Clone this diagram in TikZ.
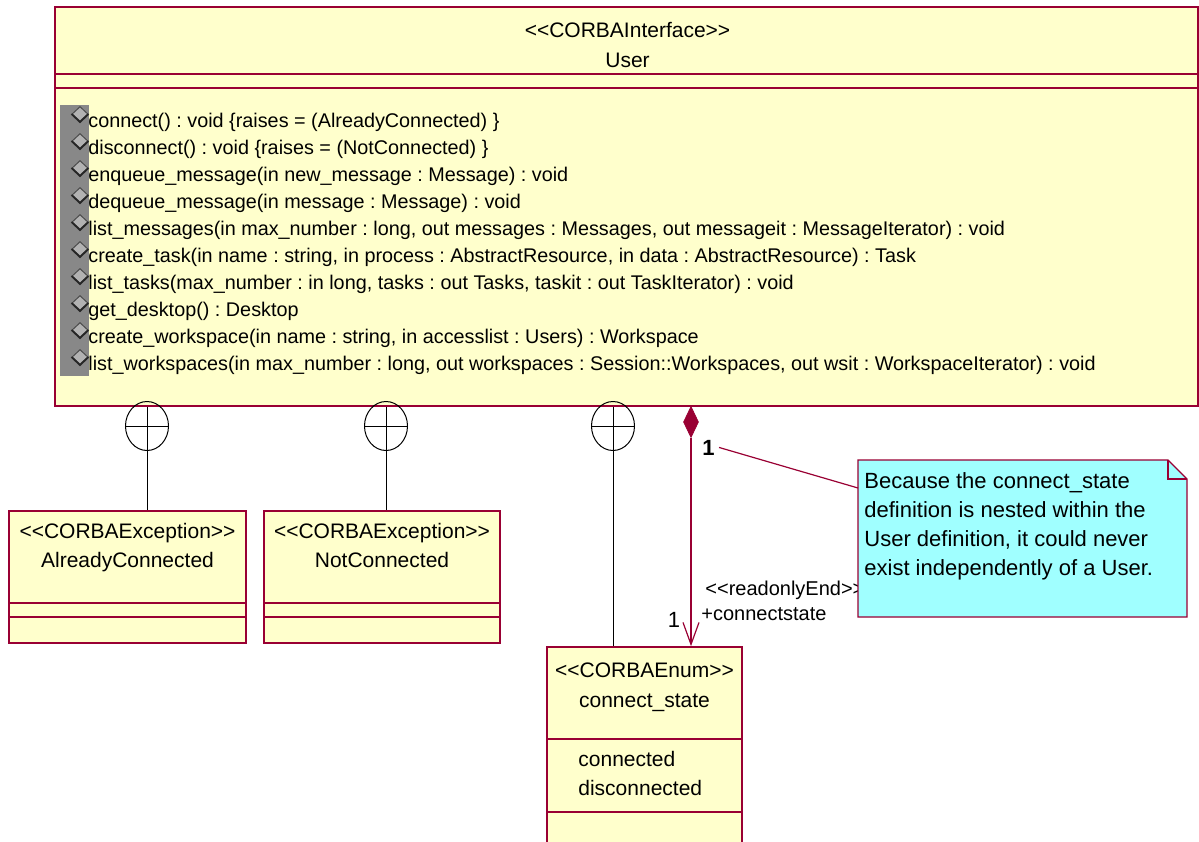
\documentclass[tikz,border=0pt]{standalone}
\usepackage{fontspec}
\setmainfont{Liberation Sans}
\usetikzlibrary{arrows.meta, fit, shapes.geometric}
\definecolor{umlred}{RGB}{153,0,51}
\definecolor{umlfill}{RGB}{255,255,204}
\definecolor{notefill}{RGB}{160,255,255}
\definecolor{opgray}{RGB}{136,136,136}
\frenchspacing

\begin{document}
\begin{tikzpicture}[x=0.5pt, y=-0.5pt,
  classbox/.style={draw=umlred, line width=0.8pt, fill=umlfill, inner sep=0pt},
  sep/.style={draw=umlred, line width=0.6pt},
  hdr/.style={font=\fontsize{10.5}{12}\selectfont, anchor=base, inner sep=0pt},
  op/.style={font=\fontsize{9.9}{12}\selectfont, anchor=base west, inner sep=0pt},
  opicon/.style={diamond, draw=black!70, fill=gray!60, line width=0.5pt, minimum width=8pt, minimum height=7.5pt, inner sep=0pt},
  nestmark/.style={ellipse, draw=black, line width=0.5pt, minimum width=21.5pt, minimum height=24.5pt, inner sep=0pt},
  nest/.style={draw=black, line width=0.5pt},
  comp/.style={draw=umlred, line width=0.6pt},
  lbl/.style={font=\fontsize{10}{12}\selectfont, anchor=base west, inner sep=0pt}
]
\useasboundingbox (0,0) rectangle (1199,841);
\clip (0,0) rectangle (1199,841);

% User interface
\node[classbox, fit={(55,7) (1198,406)}] (user) {};
\draw[sep] (55,74) -- (1198,74);
\draw[sep] (55,88) -- (1198,88);
\node[hdr] at (627.5,37) {<{}<CORBAInterface>{}>};
\node[hdr] at (627.5,67) {User};
\fill[opgray] (60,105) rectangle (89,376);
\foreach \txt [count=\i from 0] in {
  {connect() : void \{raises = (AlreadyConnected) \}},
  {disconnect() : void \{raises = (NotConnected) \}},
  {enqueue\_message(in new\_message : Message) : void},
  {dequeue\_message(in message : Message) : void},
  {list\_messages(in max\_number : long, out messages : Messages, out messageit : MessageIterator) : void},
  {create\_task(in name : string, in process : AbstractResource, in data : AbstractResource) : Task},
  {list\_tasks(max\_number : in long, tasks : out Tasks, taskit : out TaskIterator) : void},
  {get\_desktop() : Desktop},
  {create\_workspace(in name : string, in accesslist : Users) : Workspace},
  {list\_workspaces(in max\_number : long, out workspaces : Session::Workspaces, out wsit : WorkspaceIterator) : void}}
{
  \node[opicon] (ic\i) at (80,{114+27*\i}) {};
  \draw[black!85, line width=0.9pt] (ic\i.west) -- (ic\i.south) -- (ic\i.east);
  \node[op] (op\i) at (88,{127+27*\i}) {\txt};
}

% AlreadyConnected
\node[classbox, fit={(9,511) (246,643)}] (acon) {};
\draw[sep] (9,603) -- (246,603);
\draw[sep] (9,617) -- (246,617);
\node[hdr] at (127.5,538) {<{}<CORBAException>{}>};
\node[hdr] at (127.5,567) {AlreadyConnected};

% NotConnected
\node[classbox, fit={(264,511) (500,643)}] (ncon) {};
\draw[sep] (264,603) -- (500,603);
\draw[sep] (264,617) -- (500,617);
\node[hdr] at (382,538) {<{}<CORBAException>{}>};
\node[hdr] at (382,567) {NotConnected};

% connect_state
\node[classbox, fit={(547,647) (742,880)}] (cstate) {};
\draw[sep] (547,739) -- (742,739);
\draw[sep] (547,812) -- (742,812);
\node[hdr] at (644.5,677) {<{}<CORBAEnum>{}>};
\node[hdr] at (644.5,707) {connect\_state};
\node[hdr, anchor=base west] at (578,766) {connected};
\node[hdr, anchor=base west] at (578,795) {disconnected};

% Nesting
\node[nestmark] (nest1) at (147,426) {};
\node[nestmark] (nest2) at (386,426) {};
\node[nestmark] (nest3) at (613,426) {};
\foreach \n/\c in {nest1/acon, nest2/ncon, nest3/cstate} {
  \draw[nest] (\n.west) -- (\n.east);
  \draw[nest] (\n |- user.south) -- (\n |- \c.north);
}

% Composition
\node[diamond, fill=umlred, draw=umlred, minimum width=7.5pt, minimum height=15.5pt, inner sep=0pt] (whole) at (691,422) {};
\draw[comp, -{Straight Barb[length=11pt, width=8pt]}] (whole.south) -- (whole.south |- cstate.north);
\node[font=\fontsize{11}{12}\selectfont\bfseries, anchor=base, inner sep=2pt] (m1) at (708.5,455) {1};
\node[lbl] (role) at (705,595) {<{}<readonlyEnd>{}>};
\node[lbl] (rname) at (701,620) {+connectstate};
\node[font=\fontsize{11}{12}\selectfont, anchor=base, inner sep=0pt] (m2) at (674,627) {1};

% Note
\node[fit={(858,460) (1187,617)}, inner sep=0pt] (note) {};
\filldraw[fill=notefill, draw=umlred, line width=0.7pt] (858,460) -- (1168,460) -- (1187,479) -- (1187,617) -- (858,617) -- cycle;
\draw[umlred, line width=0.6pt] (1168,460) -- (1168,479) -- (1187,479);
\node[font=\fontsize{11}{14.5}\selectfont, align=left, anchor=north west, inner sep=0pt] (ntext) at (864,472)
  {Because the connect\_state\\definition is nested within the\\User definition, it could never\\exist independently of a User.};
\coordinate (nanc) at (858,488);
\draw[comp] (m1.east) -- (nanc);
\end{tikzpicture}
\end{document}
